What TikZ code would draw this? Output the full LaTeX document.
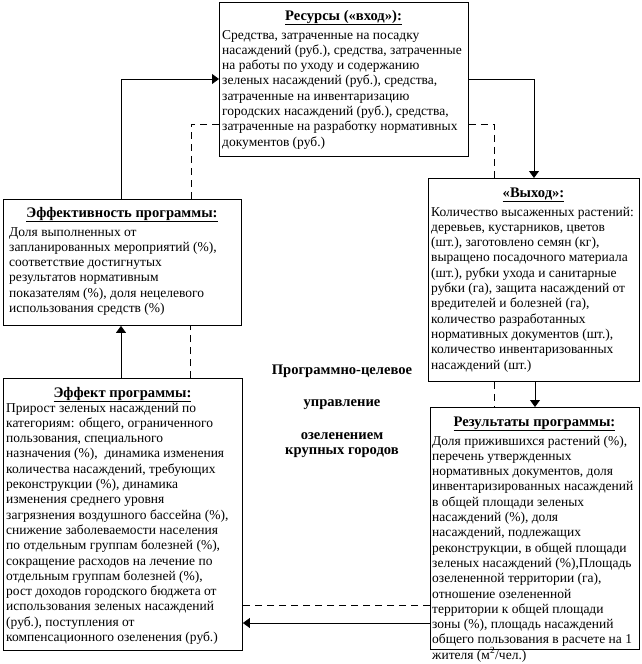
\documentclass[tikz,border=0pt]{standalone}
\usepackage{fontspec}
\setmainfont{Liberation Serif}
\usetikzlibrary{arrows.meta}
\begin{document}
\begin{tikzpicture}[x=1pt,y=-1pt,
  box/.style={draw, line width=0.9pt, anchor=north west, inner sep=0pt},
  ttl/.style={anchor=base, inner sep=0pt, font=\fontsize{14.6}{15.4}\selectfont\bfseries},
  body/.style={anchor=base west, inner sep=0pt, font=\fontsize{13.5}{15.3}\selectfont},
  ctr/.style={anchor=base, inner sep=0pt, font=\fontsize{14.6}{15.4}\selectfont\bfseries},
  arr/.style={line width=0.8pt, -{Triangle[length=7pt,width=10pt]}},
  dsh/.style={line width=0.8pt, dash pattern=on 7pt off 5pt}]
\useasboundingbox (0,0) rectangle (642,664);
\fill[white] (0,0) rectangle (642,664);

% boxes
\node[box, minimum width=249pt, minimum height=154pt] (res) at (219,2) {};
\node[box, minimum width=238pt, minimum height=126pt] (eff) at (3,199) {};
\node[box, minimum width=211pt, minimum height=203pt] (out) at (428,178) {};
\node[box, minimum width=239pt, minimum height=272pt] (effect) at (3,378) {};
\node[box, minimum width=209pt, minimum height=242pt] (resl) at (430,407) {};

% Resources
\node[ttl] (resT) at (343.5,20) {\underline{Ресурсы («вход»):}};
\node[body] (resB) at (222,39) {\parbox[t]{244pt}{\raggedright
Средства, затраченные на посадку\\
насаждений (руб.), средства, затраченные\\
на работы по уходу и содержанию\\
зеленых насаждений (руб.), средства,\\
затраченные на инвентаризацию\\
городских насаждений (руб.), средства,\\
затраченные на разработку нормативных\\
документов (руб.)}};

% Effectiveness
\node[ttl] (effT) at (122,217) {\underline{Эффективность программы:}};
\node[body] (effB) at (9,236) {\parbox[t]{230pt}{\raggedright
Доля выполненных от\\
запланированных мероприятий (\%),\\
соответствие достигнутых\\
результатов нормативным\\
показателям (\%), доля нецелевого\\
использования средств (\%)}};

% Output
\node[ttl] (outT) at (533.5,197) {\underline{«Выход»:}};
\node[body] (outB) at (431,216) {\parbox[t]{206pt}{\raggedright
Количество высаженных растений:\\
деревьев, кустарников, цветов\\
(шт.), заготовлено семян (кг),\\
выращено посадочного материала\\
(шт.), рубки ухода и санитарные\\
рубки (га), защита насаждений от\\
вредителей и болезней (га),\\
количество разработанных\\
нормативных документов (шт.),\\
количество инвентаризованных\\
насаждений (шт.)}};

% Effect
\node[ttl] (effectT) at (122.5,397) {\underline{Эффект программы:}};
\node[body] (effectB) at (6,412) {\parbox[t]{234pt}{\raggedright
Прирост зеленых насаждений по\\
категориям: общего, ограниченного\\
пользования, специального\\
назначения (\%), \ динамика изменения\\
количества насаждений, требующих\\
реконструкции (\%), динамика\\
изменения среднего уровня\\
загрязнения воздушного бассейна (\%),\\
снижение заболеваемости населения\\
по отдельным группам болезней (\%),\\
сокращение расходов на лечение по\\
отдельным группам болезней (\%),\\
рост доходов городского бюджета от\\
использования зеленых насаждений\\
(руб.), поступления от\\
компенсационного озеленения (руб.)}};

% Results
\node[ttl] (reslT) at (534.5,426) {\underline{Результаты программы:}};
\node[body] (reslB) at (432,445) {\parbox[t]{206pt}{\raggedright
Доля прижившихся растений (\%),\\
перечень утвержденных\\
нормативных документов, доля\\
инвентаризированных насаждений\\
в общей площади зеленых\\
насаждений (\%), доля\\
насаждений, подлежащих\\
реконструкции, в общей площади\\
зеленых насаждений (\%),Площадь\\
озелененной территории (га),\\
отношение озелененной\\
территории к общей площади\\
зоны (\%), площадь насаждений\\
общего пользования в расчете на 1\\
жителя (м\textsuperscript{2}/чел.)}};

% Center text
\node[ctr] (c1) at (342,374) {Программно-целевое};
\node[ctr] (c2) at (342,406) {управление};
\node[ctr] (c3) at (342,439) {озеленением};
\node[ctr] (c4) at (342,454) {крупных городов};

% connectors
\coordinate (a1) at (121,79);
\draw[arr] (a1 |- eff.north) -- (a1) -- (a1 -| res.west);
\coordinate (d1) at (191,124);
\draw[dsh] (d1 -| res.west) -- (d1) -- (d1 |- eff.north);

\coordinate (a2) at (534,79);
\draw[arr] (a2 -| res.east) -- (a2) -- (a2 |- out.north);
\coordinate (d2) at (494,124);
\draw[dsh] (d2 -| res.east) -- (d2) -- (d2 |- out.north);

\coordinate (a3) at (535,390);
\draw[arr] (a3 |- out.south) -- (a3 |- resl.north);
\coordinate (d3) at (494,390);
\draw[dsh] (d3 |- out.south) -- (d3 |- resl.north);

\coordinate (a4) at (330,623);
\draw[arr] (a4 -| resl.west) -- (a4 -| effect.east);
\coordinate (d4) at (330,605);
\draw[dsh] (d4 -| resl.west) -- (d4 -| effect.east);

\coordinate (a5) at (121,350);
\draw[arr] (a5 |- effect.north) -- (a5 |- eff.south);
\coordinate (d5) at (190,350);
\draw[dsh] (d5 |- effect.north) -- (d5 |- eff.south);
\end{tikzpicture}
\end{document}
